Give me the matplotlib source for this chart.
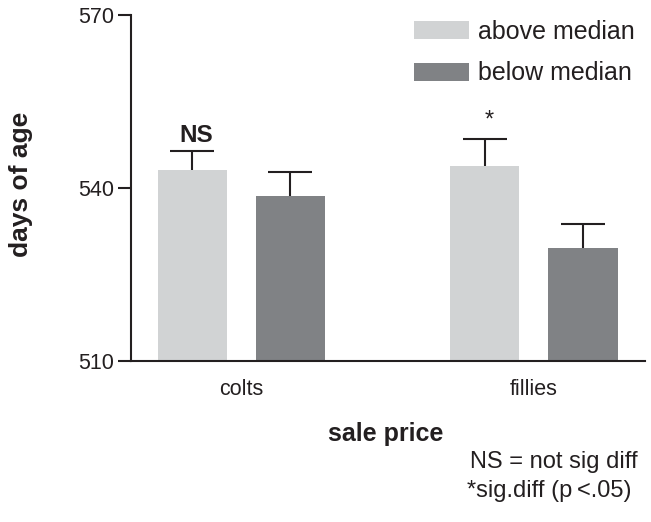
import matplotlib
matplotlib.use("Agg")
import matplotlib.pyplot as plt
import numpy as np
from matplotlib.patches import Patch

plt.rcParams['font.family'] = ['Liberation Sans', 'DejaVu Sans']

categories = ["colts", "fillies"]
series_names = ["above median", "below median"]
above_vals = [543.1, 543.9]
above_err = [3.4, 4.6]
below_vals = [538.6, 529.5]
below_err = [4.2, 4.2]
sig_labels = ["NS", "*"]
yticks = [510, 540, 570]

c_above = "#d1d3d4"
c_below = "#808285"
ink = "#231f20"

W, H = 651, 522
fig = plt.figure(figsize=(W / 100, H / 100), dpi=100)
ax = fig.add_axes([131 / W, 1 - 360.7 / H, (645 - 131) / W, (360.7 - 15.3) / H])

x = np.arange(len(categories))
bw = 0.236
off = 0.168
base = 510
for xs, vals, errs, col, name in [(x - off, above_vals, above_err, c_above, series_names[0]),
                                  (x + off, below_vals, below_err, c_below, series_names[1])]:
    vals = np.array(vals)
    ax.bar(xs, vals - base, bw, bottom=base, color=col, label=name, zorder=2)
    eb = ax.errorbar(xs, vals, yerr=[np.zeros(len(errs)), errs], fmt="none", ecolor=ink,
                     elinewidth=1.5, capthick=1.5, capsize=16, zorder=3)
    caps = eb[1]
    caps[0].set_visible(False)

ax.set_xlim(-0.377, 1.380)
ax.set_ylim(510, 570)
ax.set_yticks(yticks)
ax.set_yticklabels([str(t) for t in yticks], fontsize=15.5, color=ink)
ax.set_xticks(x)
ax.set_xticklabels(categories, fontsize=15.5, color=ink)
ax.tick_params(axis="x", length=0, pad=13)
ax.tick_params(axis="y", length=9.4, width=1.5, pad=3, color=ink)
for s in ["top", "right"]:
    ax.spines[s].set_visible(False)
for s in ["left", "bottom"]:
    ax.spines[s].set_linewidth(1.5)
    ax.spines[s].set_color(ink)

# significance labels
tops = [above_vals[i] + above_err[i] for i in range(2)]
ax.text(x[0] - off + 0.015, tops[0] + 0.7, sig_labels[0], ha="center", va="bottom",
        fontsize=17.5, fontweight="bold", color=ink)
ax.text(x[1] - off + 0.014, tops[1] + 1.3, sig_labels[1], ha="center", va="bottom",
        fontsize=17, color=ink)

fig.text(21 / W, 1 - 184 / H, "days of age", rotation=90, ha="center", va="center",
         fontsize=19, fontweight="bold", color=ink)
fig.text(386 / W, 1 - 434 / H, "sale price", ha="center", va="center",
         fontsize=18, fontweight="bold", color=ink)
fig.text(470 / W, 1 - 462 / H, "NS = not sig diff", ha="left", va="center",
         fontsize=17, color=ink)
fig.text(467 / W, 1 - 491 / H, "*sig.diff (p\u2009<.05)", ha="left", va="center",
         fontsize=17, color=ink)

handles = [Patch(facecolor=c_above, edgecolor="none"), Patch(facecolor=c_below, edgecolor="none")]
ax.legend(handles, series_names, loc="upper left", bbox_to_anchor=(414 / W, 1 - 20 / H),
          bbox_transform=fig.transFigure, frameon=False, fontsize=18,
          handlelength=2.2, handleheight=0.75, handletextpad=0.35, labelspacing=0.7,
          borderpad=0, borderaxespad=0, labelcolor=ink)

fig.savefig("out.png", dpi=100)
